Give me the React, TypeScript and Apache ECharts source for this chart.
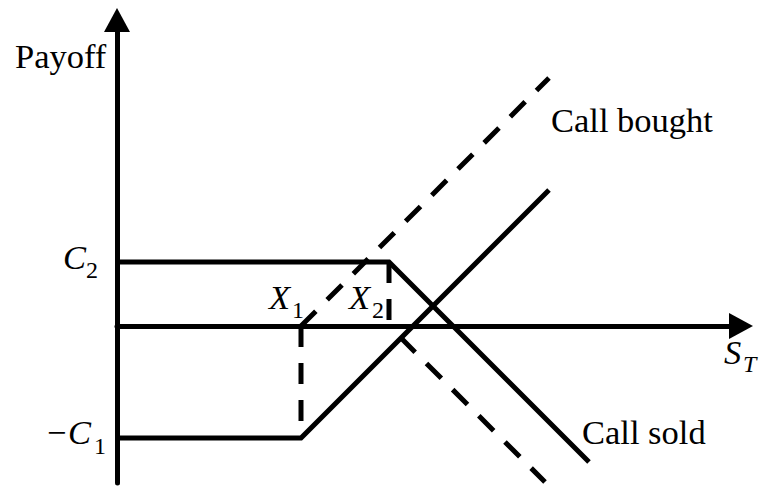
import React, { useEffect, useRef } from "react";
import * as echarts from "echarts";

// Strike prices and premiums (schematic units)
const X1 = 46;
const X2 = 68;
const C1 = 28;
const C2 = 16;

// Payoff lines: [S_T, payoff]
const callBoughtNet = [[0, -C1], [X1, -C1], [108, 108 - X1 - C1]];
const callBoughtGross = [[X1, 0], [108, 108 - X1]];
const callBoughtStrike = [[X1, 0], [X1, -C1]];
const callSoldNet = [[0, C2], [X2, C2], [118, C2 - (118 - X2)]];
const callSoldStrike = [[X2, C2], [X2, 0]];
const callSoldGross = [[X2, 0], [107, -(107 - X2)]];

const FONT = "Liberation Serif";
const MAIN = 34.5;
const SUB = 24;

function txt(text: string, x: number, y: number, size: number, italic = false) {
  return {
    type: "text",
    x,
    y,
    silent: true,
    style: {
      text,
      font: `${italic ? "italic" : "normal"} normal ${size}px "${FONT}", serif`,
      fontSize: size,
      fontFamily: FONT,
      fontStyle: italic ? "italic" : "normal",
      fill: "#000",
      align: "left",
      verticalAlign: "middle",
      textAlign: "left",
      textVerticalAlign: "middle",
    },
  };
}

export default function App() {
  const ref = useRef<HTMLDivElement>(null);
  useEffect(() => {
    if (!ref.current) return;
    const chart = echarts.init(ref.current, null, { renderer: "svg" });
    const solid = { color: "#000", width: 5, type: "solid", join: "miter", cap: "butt" };
    const dashed = { color: "#000", width: 5, type: [21, 16], join: "miter", cap: "butt" };
    const mk = (data: number[][], lineStyle: any) => ({
      type: "line",
      data,
      symbol: "none",
      lineStyle,
      silent: true,
      clip: false,
    });
    const axisLineStyle = { color: "#000", width: 5 };
    chart.setOption({
      animation: false,
      backgroundColor: "#fff",
      grid: { left: 117, right: 20, top: 20, bottom: 4 },
      xAxis: {
        type: "value",
        min: 0,
        max: 156,
        axisLine: {
          show: true,
          onZero: true,
          symbol: ["none", "triangle"],
          symbolSize: [26, 24],
          lineStyle: axisLineStyle,
        },
        axisTick: { show: false },
        axisLabel: { show: false },
        splitLine: { show: false },
      },
      yAxis: {
        type: "value",
        min: -39.25,
        max: 76.5,
        axisLine: {
          show: true,
          onZero: false,
          symbol: ["none", "triangle"],
          symbolSize: [26, 24],
          lineStyle: axisLineStyle,
        },
        axisTick: { show: false },
        axisLabel: { show: false },
        splitLine: { show: false },
      },
      series: [
        mk(callBoughtNet, solid),
        mk(callBoughtGross, dashed),
        mk(callBoughtStrike, dashed),
        mk(callSoldNet, solid),
        mk(callSoldStrike, dashed),
        mk(callSoldGross, { ...dashed, dashOffset: 21 }),
      ],
      graphic: [
        txt("Payoff", 15, 56, MAIN),
        txt("Call bought", 551, 120, MAIN),
        txt("Call sold", 582, 432, MAIN),
        txt("C", 63, 257, MAIN, true),
        txt("2", 86, 270, SUB),
        txt("\u2212", 47, 432, MAIN),
        txt("C", 68, 432, MAIN, true),
        txt("1", 94, 446, SUB),
        txt("X", 269, 297, MAIN, true),
        txt("1", 292, 310, SUB),
        txt("X", 349, 297, MAIN, true),
        txt("2", 372, 310, SUB),
        txt("S", 724, 352, MAIN, true),
        txt("T", 743, 364, SUB, true),
      ],
    });
    return () => chart.dispose();
  }, []);
  return (
    <div
      ref={ref}
      style={{ position: "fixed", left: 0, top: 0, width: 761, height: 487 }}
    />
  );
}
